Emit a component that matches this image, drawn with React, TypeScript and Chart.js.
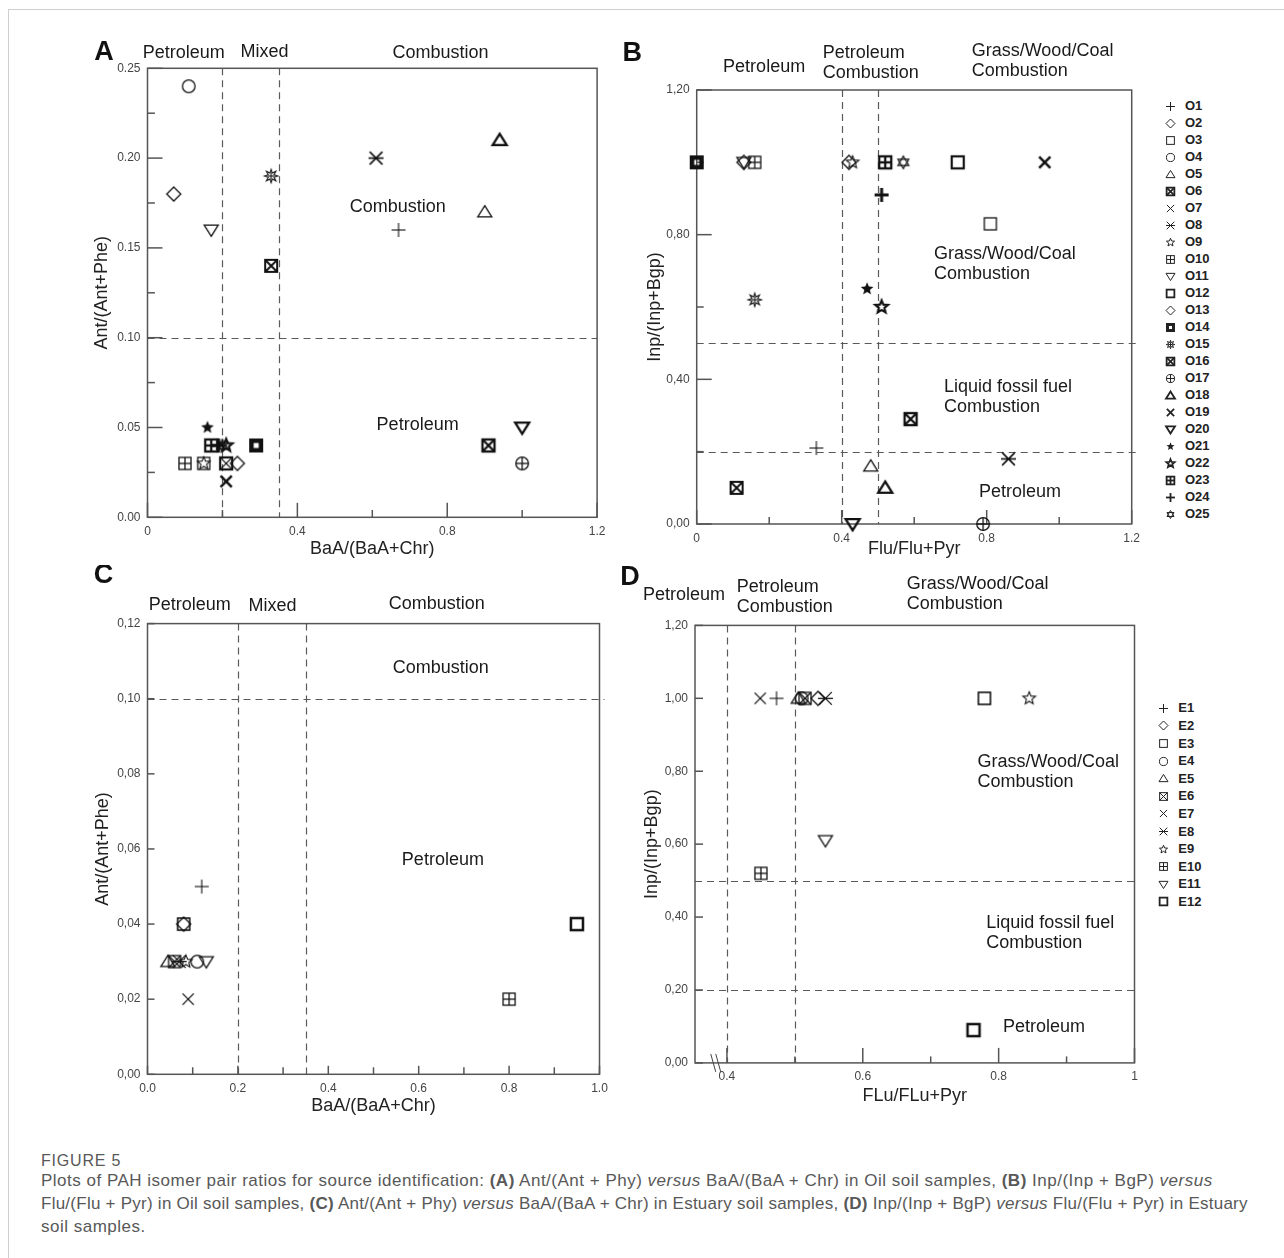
import React, { useEffect, useRef, useMemo } from 'react';
import { Chart, registerables } from 'chart.js';

Chart.register(...registerables);

const FONT = "'Liberation Sans', Arial, Helvetica, sans-serif";

/* ======================= DATA ======================= */
const OIL_SAMPLES = ['O1', 'O2', 'O3', 'O4', 'O5', 'O6', 'O7', 'O8', 'O9', 'O10', 'O11', 'O12', 'O13',
  'O14', 'O15', 'O16', 'O17', 'O18', 'O19', 'O20', 'O21', 'O22', 'O23', 'O24', 'O25'];
// Panel A: BaA/(BaA+Chr) (x) vs Ant/(Ant+Phe) (y), oil soil samples
const OIL_BAA_CHR = [0.67, 0.07, 0.15, 0.11, 0.90, 0.33, 0.21, 0.61, 0.15, 0.10, 0.17, 0.21, 0.24,
  0.29, 0.33, 0.91, 1.00, 0.94, 0.21, 1.00, 0.16, 0.21, 0.17, 0.19, 0.20];
const OIL_ANT_PHE = [0.16, 0.18, 0.03, 0.24, 0.17, 0.14, 0.03, 0.20, 0.03, 0.03, 0.16, 0.03, 0.03,
  0.04, 0.19, 0.04, 0.03, 0.21, 0.02, 0.05, 0.05, 0.04, 0.04, 0.04, 0.04];
// Panel B: Flu/(Flu+Pyr) (x) vs Inp/(Inp+Bgp) (y), oil soil samples
const OIL_FLU_PYR = [0.33, 0.13, 0.81, null, 0.48, 0.11, null, 0.86, 0.43, 0.16, 0.13, 0.72, 0.42,
  0.00, 0.16, 0.59, 0.79, 0.52, 0.96, 0.43, 0.47, 0.51, 0.52, 0.51, 0.57];
const OIL_INP_BGP = [0.21, 1.00, 0.83, null, 0.16, 0.10, null, 0.18, 1.00, 1.00, 1.00, 1.00, 1.00,
  1.00, 0.62, 0.29, 0.00, 0.10, 1.00, 0.00, 0.65, 0.60, 1.00, 0.91, 1.00];

const EST_SAMPLES = ['E1', 'E2', 'E3', 'E4', 'E5', 'E6', 'E7', 'E8', 'E9', 'E10', 'E11', 'E12'];
// Panel C: BaA/(BaA+Chr) vs Ant/(Ant+Phe), estuary soil samples
const EST_BAA_CHR = [0.12, 0.08, 0.08, 0.11, 0.045, 0.06, 0.09, 0.07, 0.085, 0.80, 0.13, 0.95];
const EST_ANT_PHE = [0.05, 0.04, 0.04, 0.03, 0.03, 0.03, 0.02, 0.03, 0.03, 0.02, 0.03, 0.04];
// Panel D: FLu/(FLu+Pyr) vs Inp/(Inp+Bgp), estuary soil samples
const EST_FLU_PYR = [0.473, 0.534, 0.779, 0.51, 0.505, 0.515, 0.449, 0.545, 0.845, 0.45, 0.545, 0.763];
const EST_INP_BGP = [1.00, 1.00, 1.00, 1.00, 1.00, 1.00, 1.00, 1.00, 1.00, 0.52, 0.61, 0.09];

// Source thresholds
const BAA_LIMITS = [0.2, 0.35];
const ANT_LIMITS = [0.1];
const FLU_LIMITS = [0.4, 0.5];
const INP_LIMITS = [0.5, 0.2];

// Ticks
const A_X_TICKS = [0, 0.2, 0.4, 0.6, 0.8, 1.0, 1.2];
const A_X_LABELS = ['0', '', '0.4', '', '0.8', '', '1.2'];
const A_Y_TICKS = [0, 0.025, 0.05, 0.075, 0.1, 0.125, 0.15, 0.175, 0.2, 0.225, 0.25];
const A_Y_LABELS = ['0.00', '', '0.05', '', '0.10', '', '0.15', '', '0.20', '', '0.25'];
const B_X_TICKS = [0, 0.2, 0.4, 0.6, 0.8, 1.0, 1.2];
const B_X_LABELS = ['0', '', '0.4', '', '0.8', '', '1.2'];
const B_Y_TICKS = [0, 0.2, 0.4, 0.6, 0.8, 1.0, 1.2];
const B_Y_LABELS = ['0,00', '', '0,40', '', '0,80', '', '1,20'];
const C_X_TICKS = [0, 0.1, 0.2, 0.3, 0.4, 0.5, 0.6, 0.7, 0.8, 0.9, 1.0];
const C_X_LABELS = ['0.0', '', '0.2', '', '0.4', '', '0.6', '', '0.8', '', '1.0'];
const C_Y_TICKS = [0, 0.02, 0.04, 0.06, 0.08, 0.1, 0.12];
const C_Y_LABELS = ['0,00', '0,02', '0,04', '0,06', '0,08', '0,10', '0,12'];
const D_X_TICKS = [0.4, 0.5, 0.6, 0.7, 0.8, 0.9, 1.0];
const D_X_LABELS = ['0.4', '', '0.6', '', '0.8', '', '1'];
const D_Y_TICKS = [0, 0.2, 0.4, 0.6, 0.8, 1.0, 1.2];
const D_Y_LABELS = ['0,00', '0,20', '0,40', '0,60', '0,80', '1,00', '1,20'];

/* ======================= MARKERS ======================= */
type Marker = [string, number];
const OIL_MARKERS: Marker[] = [
  ['plus', 1.1], ['diamond', 1.3], ['square', 1.3], ['circle', 1.3], ['tri', 1.3], ['boxX', 2],
  ['x', 1.3], ['aster', 1.6], ['star5', 1.1], ['boxPlus', 1.3], ['triDown', 1.3], ['square', 2.2],
  ['diamond', 1.3], ['squareThick', 4.5], ['burst', 1.1], ['boxX', 2.3], ['circlePlus', 1.3],
  ['tri', 2.3], ['x', 2.5], ['triDown', 2.3], ['starFilled', 1], ['star5', 2.2], ['boxPlus', 2.3],
  ['plus', 3], ['hexagram', 1.2],
];
const EST_MARKERS: Marker[] = [
  ['plus', 1.1], ['diamond', 1.3], ['square', 1.6], ['circle', 1.3], ['tri', 1.3], ['boxX', 1.3],
  ['x', 1.3], ['aster', 1.3], ['star5', 1.1], ['boxPlus', 1.3], ['triDown', 1.3], ['square', 2.5],
];

function makeMarker(kind: string, size: number, lw: number, color = '#111'): HTMLCanvasElement {
  const pad = Math.ceil(lw) + 2;
  const s = Math.ceil(size + pad * 2);
  const cv = document.createElement('canvas');
  cv.width = s;
  cv.height = s;
  const ctx = cv.getContext('2d') as CanvasRenderingContext2D;
  const c = s / 2;
  const r = size / 2;
  ctx.strokeStyle = color;
  ctx.fillStyle = color;
  ctx.lineWidth = lw;
  ctx.lineJoin = 'miter';
  const line = (x1: number, y1: number, x2: number, y2: number) => {
    ctx.beginPath();
    ctx.moveTo(c + x1, c + y1);
    ctx.lineTo(c + x2, c + y2);
    ctx.stroke();
  };
  const poly = (pts: number[][], fill = false) => {
    ctx.beginPath();
    pts.forEach(([x, y], i) => (i ? ctx.lineTo(c + x, c + y) : ctx.moveTo(c + x, c + y)));
    ctx.closePath();
    if (fill) ctx.fill();
    else ctx.stroke();
  };
  const starPts = (n: number, ro: number, ri: number) => {
    const pts: number[][] = [];
    for (let i = 0; i < n * 2; i++) {
      const a = -Math.PI / 2 + (i * Math.PI) / n;
      const rr = i % 2 === 0 ? ro : ri;
      pts.push([rr * Math.cos(a), rr * Math.sin(a)]);
    }
    return pts;
  };
  const q = r * 0.86;
  const sq = () => ctx.strokeRect(c - q, c - q, 2 * q, 2 * q);
  switch (kind) {
    case 'plus':
      line(-r, 0, r, 0);
      line(0, -r, 0, r);
      break;
    case 'x':
      line(-r * 0.8, -r * 0.8, r * 0.8, r * 0.8);
      line(-r * 0.8, r * 0.8, r * 0.8, -r * 0.8);
      break;
    case 'diamond':
      poly([[0, -r], [r, 0], [0, r], [-r, 0]]);
      break;
    case 'square':
      sq();
      break;
    case 'squareThick': {
      const qq = r - lw / 2;
      ctx.strokeRect(c - qq, c - qq, 2 * qq, 2 * qq);
      break;
    }
    case 'circle':
      ctx.beginPath();
      ctx.arc(c, c, r * 0.9, 0, Math.PI * 2);
      ctx.stroke();
      break;
    case 'circlePlus':
      ctx.beginPath();
      ctx.arc(c, c, r * 0.9, 0, Math.PI * 2);
      ctx.stroke();
      line(-r * 0.9, 0, r * 0.9, 0);
      line(0, -r * 0.9, 0, r * 0.9);
      break;
    case 'tri':
      poly([[0, -r * 0.9], [r, r * 0.7], [-r, r * 0.7]]);
      break;
    case 'triDown':
      poly([[0, r * 0.9], [r, -r * 0.7], [-r, -r * 0.7]]);
      break;
    case 'boxX':
      sq();
      line(-q, -q, q, q);
      line(-q, q, q, -q);
      break;
    case 'boxPlus':
      sq();
      line(-q, 0, q, 0);
      line(0, -q, 0, q);
      break;
    case 'aster':
      line(-r * 0.85, -r * 0.85, r * 0.85, r * 0.85);
      line(-r * 0.85, r * 0.85, r * 0.85, -r * 0.85);
      line(-r, 0, r, 0);
      break;
    case 'star5':
      poly(starPts(5, r * 0.95, r * 0.42));
      break;
    case 'starFilled':
      poly(starPts(5, r * 0.95, r * 0.42), true);
      break;
    case 'burst':
      poly(starPts(8, r * 0.95, r * 0.45));
      line(-r * 0.5, 0, r * 0.5, 0);
      line(0, -r * 0.5, 0, r * 0.5);
      break;
    case 'hexagram':
      poly([[0, -r * 0.9], [r * 0.78, r * 0.45], [-r * 0.78, r * 0.45]]);
      poly([[0, r * 0.9], [r * 0.78, -r * 0.45], [-r * 0.78, -r * 0.45]]);
      break;
    default:
      break;
  }
  return cv;
}

/* ======================= PANELS ======================= */
type Label = { text: string; x: number; y?: number; above?: number; align?: CanvasTextAlign };
type Spec = {
  id: string;
  canvas: { left: number; top: number; width: number; height: number };
  plot: { left: number; top: number; right: number; bottom: number };
  yTitleX: number;
  xTitleY: number;
  xMin: number; xMax: number; yMin: number; yMax: number;
  xTicks: number[]; xLabels: string[]; yTicks: number[]; yLabels: string[];
  xMajor: number; xMinor: number; yMajor: number; yMinor: number;
  xTitle: string; yTitle: string;
  xLimits: number[]; yLimits: number[]; dashExtend: number;
  samples: string[]; xs: (number | null)[]; ys: (number | null)[]; markers: Marker[];
  letter: { text: string; dx: number; dy: number };
  labels: Label[];
  axisBreak?: number;
};

const SPECS: Spec[] = [
  {
    id: 'A',
    canvas: { left: 0, top: 30, width: 612, height: 535 },
    plot: { left: 147.5, top: 68.3, right: 597.1, bottom: 517.3 },
    yTitleX: 102, xTitleY: 549,
    xMin: 0, xMax: 1.2, yMin: 0, yMax: 0.25,
    xTicks: A_X_TICKS, xLabels: A_X_LABELS, yTicks: A_Y_TICKS, yLabels: A_Y_LABELS,
    xMajor: 14.5, xMinor: 7.3, yMajor: 15, yMinor: 7.4,
    xTitle: 'BaA/(BaA+Chr)', yTitle: 'Ant/(Ant+Phe)',
    xLimits: BAA_LIMITS, yLimits: ANT_LIMITS, dashExtend: 0,
    samples: OIL_SAMPLES, xs: OIL_BAA_CHR, ys: OIL_ANT_PHE, markers: OIL_MARKERS,
    letter: { text: 'A', dx: -43.5, dy: -15.8 },
    labels: [
      { text: 'Petroleum', x: 0.097, above: 15.6 },
      { text: 'Mixed', x: 0.312, above: 16.6 },
      { text: 'Combustion', x: 0.782, above: 15.6 },
      { text: 'Combustion', x: 0.668, y: 0.173 },
      { text: 'Petroleum', x: 0.721, y: 0.0514 },
    ],
  },
  {
    id: 'B',
    canvas: { left: 612, top: 30, width: 538, height: 535 },
    plot: { left: 696.7, top: 90, right: 1131.7, bottom: 524 },
    yTitleX: 655, xTitleY: 549,
    xMin: 0, xMax: 1.2, yMin: 0, yMax: 1.2,
    xTicks: B_X_TICKS, xLabels: B_X_LABELS, yTicks: B_Y_TICKS, yLabels: B_Y_LABELS,
    xMajor: 14, xMinor: 7, yMajor: 15, yMinor: 7,
    xTitle: 'Flu/Flu+Pyr', yTitle: 'Inp/(Inp+Bgp)',
    xLimits: FLU_LIMITS, yLimits: INP_LIMITS, dashExtend: 4,
    samples: OIL_SAMPLES, xs: OIL_FLU_PYR, ys: OIL_INP_BGP, markers: OIL_MARKERS,
    letter: { text: 'B', dx: -64.5, dy: -36 },
    labels: [
      { text: 'Petroleum', x: 0.186, above: 22.7 },
      { text: 'Petroleum', x: 0.3476, above: 37.3, align: 'left' },
      { text: 'Combustion', x: 0.3476, above: 17.3, align: 'left' },
      { text: 'Grass/Wood/Coal', x: 0.7586, above: 38.7, align: 'left' },
      { text: 'Combustion', x: 0.7586, above: 19, align: 'left' },
      { text: 'Grass/Wood/Coal', x: 0.6546, y: 0.7465, align: 'left' },
      { text: 'Combustion', x: 0.6546, y: 0.6912, align: 'left' },
      { text: 'Liquid fossil fuel', x: 0.6822, y: 0.378, align: 'left' },
      { text: 'Combustion', x: 0.6822, y: 0.3226, align: 'left' },
      { text: 'Petroleum', x: 0.7788, y: 0.0876, align: 'left' },
    ],
  },
  {
    id: 'C',
    canvas: { left: 0, top: 565, width: 612, height: 555 },
    plot: { left: 147.5, top: 623.6, right: 599.5, bottom: 1074.3 },
    yTitleX: 102.8, xTitleY: 1106,
    xMin: 0, xMax: 1.0, yMin: 0, yMax: 0.12,
    xTicks: C_X_TICKS, xLabels: C_X_LABELS, yTicks: C_Y_TICKS, yLabels: C_Y_LABELS,
    xMajor: 8.5, xMinor: 7, yMajor: 7, yMinor: 7,
    xTitle: 'BaA/(BaA+Chr)', yTitle: 'Ant/(Ant+Phe)',
    xLimits: BAA_LIMITS, yLimits: ANT_LIMITS, dashExtend: 5,
    samples: EST_SAMPLES, xs: EST_BAA_CHR, ys: EST_ANT_PHE, markers: EST_MARKERS,
    letter: { text: 'C', dx: -43.9, dy: -47.6 },
    labels: [
      { text: 'Petroleum', x: 0.0936, above: 19 },
      { text: 'Mixed', x: 0.2766, above: 17.9 },
      { text: 'Combustion', x: 0.64, above: 20 },
      { text: 'Combustion', x: 0.649, y: 0.1082 },
      { text: 'Petroleum', x: 0.6535, y: 0.0571 },
    ],
  },
  {
    id: 'D',
    canvas: { left: 612, top: 565, width: 538, height: 555 },
    plot: { left: 695, top: 625.4, right: 1134.5, bottom: 1062.9 },
    yTitleX: 652.1, xTitleY: 1095.7,
    xMin: 0.353, xMax: 1.0, yMin: 0, yMax: 1.2,
    xTicks: D_X_TICKS, xLabels: D_X_LABELS, yTicks: D_Y_TICKS, yLabels: D_Y_LABELS,
    xMajor: 15, xMinor: 6.5, yMajor: 8, yMinor: 8,
    xTitle: 'FLu/FLu+Pyr', yTitle: 'Inp/(Inp+Bgp)',
    xLimits: FLU_LIMITS, yLimits: INP_LIMITS, dashExtend: 0,
    samples: EST_SAMPLES, xs: EST_FLU_PYR, ys: EST_INP_BGP, markers: EST_MARKERS,
    letter: { text: 'D', dx: -65, dy: -47.4 },
    labels: [
      { text: 'Petroleum', x: 0.3369, above: 30.8 },
      { text: 'Petroleum', x: 0.4144, above: 37.9, align: 'left' },
      { text: 'Combustion', x: 0.4144, above: 17.9, align: 'left' },
      { text: 'Grass/Wood/Coal', x: 0.6648, above: 41.5, align: 'left' },
      { text: 'Combustion', x: 0.6648, above: 21.5, align: 'left' },
      { text: 'Grass/Wood/Coal', x: 0.7687, y: 0.8258, align: 'left' },
      { text: 'Combustion', x: 0.7687, y: 0.7701, align: 'left' },
      { text: 'Liquid fossil fuel', x: 0.7816, y: 0.3832, align: 'left' },
      { text: 'Combustion', x: 0.7816, y: 0.3283, align: 'left' },
      { text: 'Petroleum', x: 0.8065, y: 0.0982, align: 'left' },
    ],
    axisBreak: 0.385,
  },
];

function labelFor(ticks: number[], labels: string[], v: number) {
  const i = ticks.findIndex((t) => Math.abs(t - v) < 1e-9);
  return i >= 0 ? labels[i] : '';
}

function decorPlugin(spec: Spec) {
  return {
    id: 'decor' + spec.id,
    beforeDatasetsDraw(chart: any) {
      const { ctx, chartArea: a, scales } = chart;
      const x = scales.x;
      const y = scales.y;
      const seg = (x1: number, y1: number, x2: number, y2: number) => {
        ctx.beginPath();
        ctx.moveTo(x1, y1);
        ctx.lineTo(x2, y2);
        ctx.stroke();
      };
      ctx.save();
      ctx.strokeStyle = '#5a5a5a';
      ctx.lineWidth = 1.2;
      ctx.setLineDash([7, 5]);
      spec.xLimits.forEach((v) => {
        const px = Math.round(x.getPixelForValue(v)) + 0.5;
        seg(px, a.top, px, a.bottom);
      });
      spec.yLimits.forEach((v) => {
        const py = Math.round(y.getPixelForValue(v)) + 0.5;
        seg(a.left, py, a.right + spec.dashExtend, py);
      });
      ctx.setLineDash([]);
      ctx.strokeStyle = '#555';
      ctx.lineWidth = 1.5;
      ctx.strokeRect(a.left, a.top, a.right - a.left, a.bottom - a.top);
      spec.xTicks.forEach((v, i) => {
        const px = x.getPixelForValue(v);
        const len = spec.xLabels[i] ? spec.xMajor : spec.xMinor;
        seg(px, a.bottom, px, a.bottom - len);
      });
      spec.yTicks.forEach((v, i) => {
        const py = y.getPixelForValue(v);
        const len = spec.yLabels[i] ? spec.yMajor : spec.yMinor;
        seg(a.left, py, a.left + len, py);
      });
      if (spec.axisBreak != null) {
        const bx = x.getPixelForValue(spec.axisBreak);
        ctx.lineWidth = 1;
        ctx.strokeStyle = '#444';
        seg(bx - 6, a.bottom - 9, bx - 1, a.bottom + 9);
        seg(bx - 1, a.bottom - 9, bx + 4, a.bottom + 9);
      }
      ctx.restore();
    },
    afterDraw(chart: any) {
      const { ctx, chartArea: a, scales } = chart;
      const x = scales.x;
      const y = scales.y;
      ctx.save();
      ctx.fillStyle = '#1a1a1a';
      ctx.textBaseline = 'middle';
      ctx.font = `18px ${FONT}`;
      spec.labels.forEach((l) => {
        const px = x.getPixelForValue(l.x);
        const py = l.above != null ? a.top - l.above : y.getPixelForValue(l.y as number);
        ctx.textAlign = l.align || 'center';
        ctx.fillText(l.text, px, py);
      });
      ctx.font = `bold 27px ${FONT}`;
      ctx.fillStyle = '#111';
      ctx.textAlign = 'center';
      ctx.fillText(spec.letter.text, a.left + spec.letter.dx, a.top + spec.letter.dy);
      ctx.restore();
    },
  };
}

function buildConfig(spec: Spec): any {
  const c = spec.canvas;
  const p = spec.plot;
  const TITLE_HALF = (18 * 1.2) / 2;
  const padLeft = spec.yTitleX - c.left - TITLE_HALF;
  const yAxisW = p.left - c.left - padLeft;
  const padTop = p.top - c.top;
  const padRight = c.left + c.width - p.right;
  const xAxisH = c.top + c.height - p.bottom;
  const xTitlePb = c.top + c.height - spec.xTitleY - TITLE_HALF;

  const datasets = spec.samples.map((name, i) => {
    const xv = spec.xs[i];
    const yv = spec.ys[i];
    const kind = spec.markers[i][0];
    return {
      label: name,
      data: xv == null || yv == null ? [] : [{ x: xv, y: yv }],
      pointStyle: makeMarker(kind, kind === 'aster' ? 15 : 14, spec.markers[i][1]),
      pointRadius: 6,
      clip: false,
    };
  });

  const tickFont = { family: FONT, size: 12 };
  const titleFont = { family: FONT, size: 18 };
  return {
    type: 'scatter',
    data: { datasets },
    options: {
      animation: false,
      responsive: false,
      maintainAspectRatio: false,
      events: [],
      layout: { padding: { left: padLeft, top: padTop, right: padRight, bottom: 0 } },
      plugins: { legend: { display: false }, tooltip: { enabled: false } },
      scales: {
        x: {
          type: 'linear',
          position: 'bottom',
          min: spec.xMin,
          max: spec.xMax,
          grid: { display: false, drawTicks: false },
          border: { display: false },
          afterBuildTicks: (s: any) => {
            s.ticks = spec.xTicks.map((v) => ({ value: v }));
          },
          afterFit: (s: any) => {
            s.height = xAxisH;
            s.paddingLeft = 0;
            s.paddingRight = 0;
          },
          ticks: {
            autoSkip: false,
            maxRotation: 0,
            padding: 7,
            color: '#444',
            font: tickFont,
            callback: (v: number) => labelFor(spec.xTicks, spec.xLabels, v),
          },
          title: {
            display: true,
            text: spec.xTitle,
            color: '#222',
            font: titleFont,
            padding: { top: 0, bottom: xTitlePb },
          },
        },
        y: {
          type: 'linear',
          position: 'left',
          min: spec.yMin,
          max: spec.yMax,
          grid: { display: false, drawTicks: false },
          border: { display: false },
          afterBuildTicks: (s: any) => {
            s.ticks = spec.yTicks.map((v) => ({ value: v }));
          },
          afterFit: (s: any) => {
            s.width = yAxisW;
            s.paddingTop = 0;
            s.paddingBottom = 0;
          },
          ticks: {
            autoSkip: false,
            padding: 7,
            color: '#444',
            font: tickFont,
            callback: (v: number) => labelFor(spec.yTicks, spec.yLabels, v),
          },
          title: {
            display: true,
            text: spec.yTitle,
            color: '#222',
            font: titleFont,
            padding: { top: 0, bottom: 0 },
          },
        },
      },
    },
    plugins: [decorPlugin(spec)],
  };
}

function ChartPanel({ spec }: { spec: Spec }) {
  const ref = useRef<HTMLCanvasElement>(null);
  useEffect(() => {
    if (!ref.current) return undefined;
    const chart = new Chart(ref.current, buildConfig(spec));
    return () => chart.destroy();
  }, [spec]);
  const c = spec.canvas;
  return (
    <div style={{ position: 'absolute', left: c.left, top: c.top, width: c.width, height: c.height }}>
      <canvas ref={ref} width={c.width} height={c.height} style={{ width: c.width, height: c.height, display: 'block' }} />
    </div>
  );
}

function Legend({ names, markers, iconX, textX, y0, dy }: {
  names: string[]; markers: Marker[]; iconX: number; textX: number; y0: number; dy: number;
}) {
  const icons = useMemo(
    () => markers.map(([k, lw]) => {
      const w = k === 'squareThick' ? 3 : lw >= 2 ? 1.8 : 1;
      const cv = makeMarker(k, 9, w, '#222');
      return { url: cv.toDataURL(), size: cv.width };
    }),
    [markers],
  );
  return (
    <>
      {names.map((n, i) => {
        const cy = y0 + dy * i;
        return (
          <React.Fragment key={n}>
            <img
              src={icons[i].url}
              width={icons[i].size}
              height={icons[i].size}
              style={{ position: 'absolute', left: iconX - icons[i].size / 2, top: cy - icons[i].size / 2 }}
              alt=""
            />
            <div
              style={{
                position: 'absolute', left: textX, top: cy - 8, height: 16, lineHeight: '16px',
                font: `bold 13px ${FONT}`, color: '#222', whiteSpace: 'nowrap',
              }}
            >
              {n}
            </div>
          </React.Fragment>
        );
      })}
    </>
  );
}

const CAPTION_STYLE: React.CSSProperties = {
  position: 'absolute', left: 41, whiteSpace: 'nowrap', fontFamily: FONT, fontSize: 17,
  letterSpacing: 0.5, lineHeight: '23px', color: '#585858',
};

export default function App() {
  return (
    <div style={{ position: 'absolute', left: 0, top: 0, width: 1284, height: 1258, background: '#fff', overflow: 'hidden' }}>
      <div style={{ position: 'absolute', left: 8, top: 9, width: 1290, height: 1260, borderTop: '1px solid #cfcfcf', borderLeft: '1px solid #cfcfcf' }} />
      {SPECS.map((s) => (
        <ChartPanel key={s.id} spec={s} />
      ))}
      <Legend names={OIL_SAMPLES} markers={OIL_MARKERS} iconX={1170.7} textX={1185} y0={106} dy={17} />
      <Legend names={EST_SAMPLES} markers={EST_MARKERS} iconX={1163.3} textX={1178.3} y0={708.3} dy={17.6} />
      <div style={{ ...CAPTION_STYLE, top: 1149, fontSize: 16, letterSpacing: 0.8 }}>FIGURE 5</div>
      <div style={{ ...CAPTION_STYLE, top: 1169 }}>
        Plots of PAH isomer pair ratios for source identification: <b>(A)</b> Ant/(Ant + Phy) <i>versus</i> BaA/(BaA + Chr) in Oil soil samples, <b>(B)</b> Inp/(Inp + BgP) <i>versus</i>
      </div>
      <div style={{ ...CAPTION_STYLE, top: 1192, letterSpacing: 0.25 }}>
        Flu/(Flu + Pyr) in Oil soil samples, <b>(C)</b> Ant/(Ant + Phy) <i>versus</i> BaA/(BaA + Chr) in Estuary soil samples, <b>(D)</b> Inp/(Inp + BgP) <i>versus</i> Flu/(Flu + Pyr) in Estuary
      </div>
      <div style={{ ...CAPTION_STYLE, top: 1215 }}>soil samples.</div>
    </div>
  );
}
